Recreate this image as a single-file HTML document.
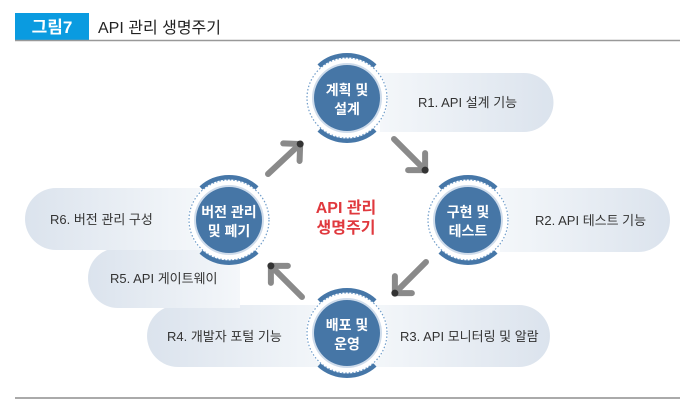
<!DOCTYPE html>
<html><head><meta charset="utf-8"><style>
body{margin:0;width:693px;height:411px;background:#fff;overflow:hidden}
text{font-family:"Liberation Sans","Noto Sans CJK KR",sans-serif}
</style></head><body>
<svg width="693" height="411" viewBox="0 0 693 411" xmlns="http://www.w3.org/2000/svg">
<defs>
<linearGradient id="gr" x1="0" x2="1"><stop offset="0" stop-color="#f4f7fa"/><stop offset="1" stop-color="#dbe3ed"/></linearGradient>
<linearGradient id="gl" x1="1" x2="0"><stop offset="0" stop-color="#f4f7fa"/><stop offset="1" stop-color="#dbe3ed"/></linearGradient>
<g id="arr"><line x1="0" y1="0" x2="44" y2="0" stroke="#8a8a8a" stroke-width="6" stroke-linecap="round"/><polyline points="32,-12 44,0 32,12" fill="none" stroke="#8a8a8a" stroke-width="6" stroke-linecap="round" stroke-linejoin="round"/><circle cx="44" cy="0" r="3.5" fill="#333"/></g>
<g id="node"><circle r="41" fill="#fff"/><circle r="40" fill="none" stroke="#6f9cc9" stroke-width="1.2" stroke-dasharray="1.5 2"/>
<path d="M-28,-32 A42,42 0 0 1 28,-32" fill="none" stroke="#4677a8" stroke-width="4.5"/>
<path d="M-28,32 A42,42 0 0 0 28,32" fill="none" stroke="#4677a8" stroke-width="4.5"/>
<circle r="35" fill="#cfdceb"/><circle r="33" fill="#4676a6"/></g>
</defs>
<rect x="15" y="13" width="74" height="27" fill="#0a9be0"/>
<text x="52" y="33" font-size="17" font-weight="bold" fill="#fff" text-anchor="middle">그림7</text>
<text x="98" y="33" font-size="16" fill="#222">API 관리 생명주기</text>
<line x1="15" y1="40.5" x2="680" y2="40.5" stroke="#999" stroke-width="1.5"/>
<line x1="15" y1="398" x2="680" y2="398" stroke="#aaa" stroke-width="2"/>
<!-- pills -->
<path d="M380,73 H524 A29.5,29.5 0 0 1 524,132 H380 Z" fill="url(#gr)"/>
<path d="M500,188 H638 A32,32 0 0 1 638,252 H500 Z" fill="url(#gr)"/>
<path d="M370,305 H519 A31,31 0 0 1 519,367 H370 Z" fill="url(#gr)"/>
<path d="M330,305 H178 A31,31 0 0 0 178,367 H330 Z" fill="url(#gl)"/>
<path d="M240,248 H118 A30,30 0 0 0 118,308 H240 Z" fill="url(#gl)"/>
<path d="M200,188 H56 A31,31 0 0 0 56,250 H200 Z" fill="url(#gl)"/>
<g font-size="13" fill="#333">
<text x="418" y="107">R1. API 설계 기능</text>
<text x="535" y="225">R2. API 테스트 기능</text>
<text x="400" y="341">R3. API 모니터링 및 알람</text>
<text x="167" y="341">R4. 개발자 포털 기능</text>
<text x="110" y="283">R5. API 게이트웨이</text>
<text x="50" y="224">R6. 버전 관리 구성</text>
</g>
<use href="#node" x="347" y="98"/>
<use href="#node" x="468" y="220"/>
<use href="#node" x="347" y="333"/>
<use href="#node" x="229" y="220"/>
<g font-size="14" font-weight="bold" fill="#fff" text-anchor="middle">
<text x="347" y="95">계획 및</text><text x="347" y="114">설계</text>
<text x="468" y="217">구현 및</text><text x="468" y="236">테스트</text>
<text x="347" y="330">배포 및</text><text x="347" y="349">운영</text>
<text x="229" y="217">버전 관리</text><text x="229" y="236">및 폐기</text>
</g>
<g font-size="16" fill="#e0393e" text-anchor="middle" font-weight="bold">
<text x="346" y="213">API 관리</text><text x="346" y="233">생명주기</text>
</g>
<use href="#arr" transform="translate(268,174) rotate(-43)"/>
<use href="#arr" transform="translate(394,139) rotate(45)"/>
<use href="#arr" transform="translate(426,262) rotate(135)"/>
<use href="#arr" transform="translate(302,297) rotate(-135)"/>
</svg>
</body></html>
